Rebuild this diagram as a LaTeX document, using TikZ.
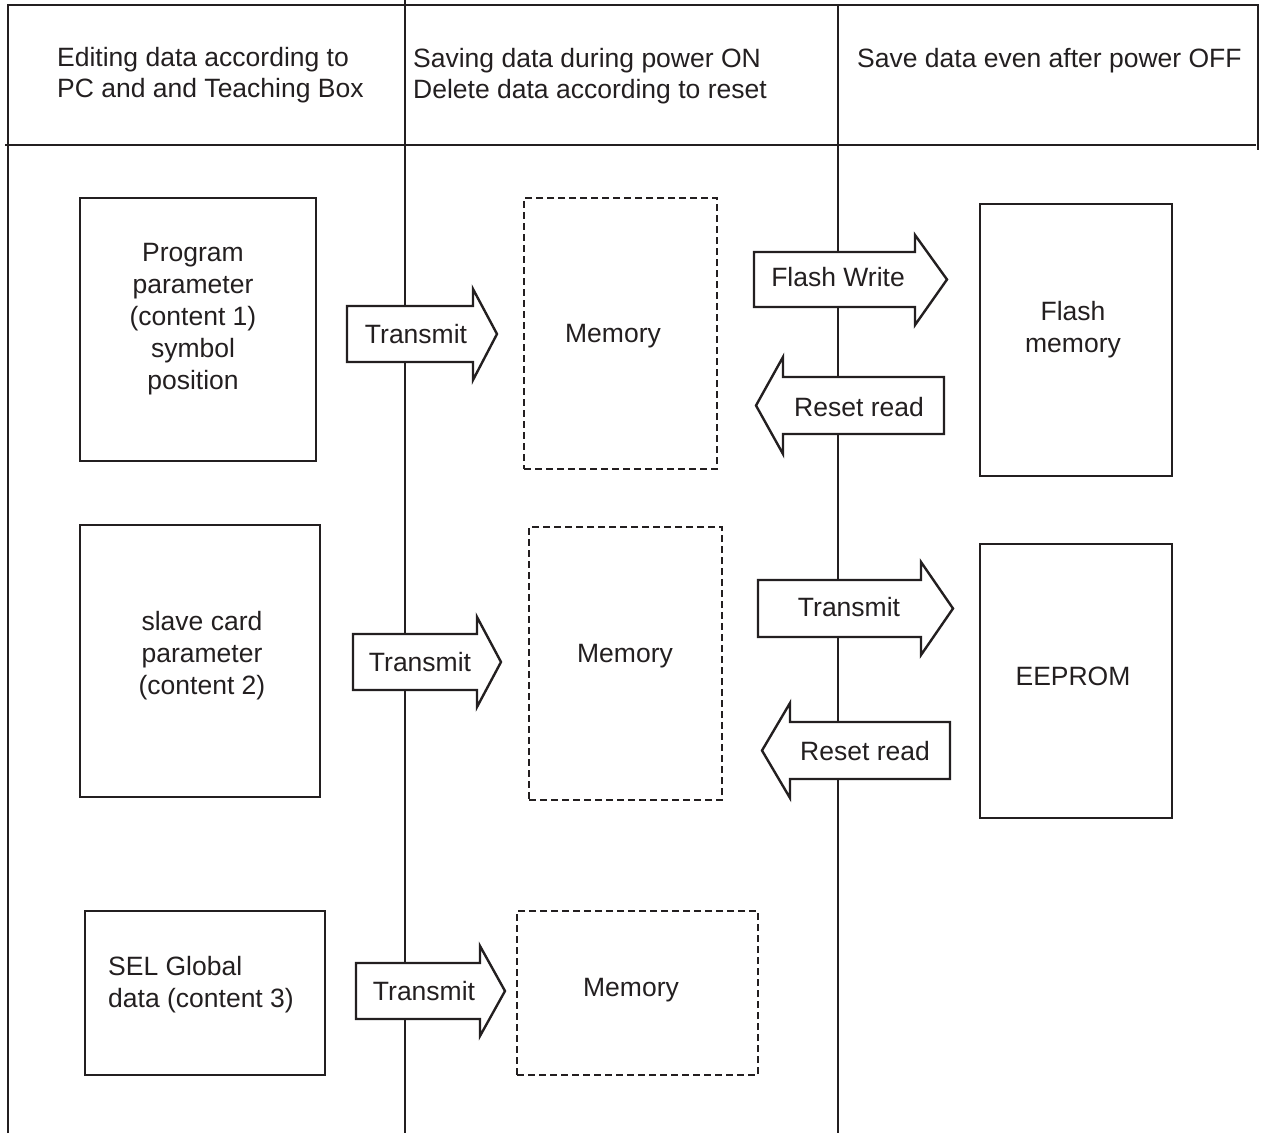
\documentclass[tikz,border=0pt]{standalone}
\usepackage{fontspec}
\setmainfont{Liberation Sans}
\definecolor{ink}{RGB}{35,31,32}
\begin{document}
\begin{tikzpicture}[x=1pt,y=-1pt,
  every node/.style={text=ink, font=\fontsize{26.5}{32}\selectfont, inner sep=0pt},
  rule/.style={draw=ink, line width=2.4pt},
  solidbox/.style={draw=ink, line width=2.6pt},
  dashbox/.style={draw=ink, line width=2.6pt, dash pattern=on 7pt off 4pt},
  blockarrow/.style={draw=ink, fill=white, line width=2.4pt, line join=miter},
  hdr/.style={anchor=base west},
  boxtext/.style={align=center}
  ]
\useasboundingbox (0,0) rectangle (1266,1133);
% frame
\draw[rule] (8,1133) -- (8,5) -- (1258,5) -- (1258,150);
\draw[rule] (5,145) -- (1256,145);
\draw[rule] (405,0) -- (405,1133);
\draw[rule] (838,5) -- (838,1133);
% headers
\node[hdr] (h1a) at (57,66) {Editing data according to};
\node[hdr] (h1b) at (57,97) {PC and and Teaching Box};
\node[hdr] (h2a) at (413,67) {Saving data during power ON};
\node[hdr] (h2b) at (413,98) {Delete data according to reset};
\node[hdr] (h3a) at (857,67) {Save data even after power OFF};
% boxes
\node[solidbox, minimum width=236pt, minimum height=263pt] (prog) at (198,329.5) {};
\node[solidbox, minimum width=240pt, minimum height=272pt] (slave) at (200,661) {};
\node[solidbox, minimum width=240pt, minimum height=164pt] (sel) at (205,993) {};
\node[dashbox, minimum width=193pt, minimum height=271pt] (mem1) at (620.5,333.5) {};
\node[dashbox, minimum width=193pt, minimum height=273pt] (mem2) at (625.5,663.5) {};
\node[dashbox, minimum width=241pt, minimum height=164pt] (mem3) at (637.5,993) {};
\node[solidbox, minimum width=192pt, minimum height=272pt] (flash) at (1076,340) {};
\node[solidbox, minimum width=192pt, minimum height=274pt] (eeprom) at (1076,681) {};
% box texts
\node[boxtext] (progt) at (193,319) {Program\\parameter\\(content 1)\\symbol\\position};
\node[boxtext] (slavet) at (202,656) {slave card\\parameter\\(content 2)};
\node[align=left, anchor=west] (selt) at (108,985) {SEL Global\\data (content 3)};
\node (mem1t) at (613,336) {Memory};
\node (mem2t) at (625,656) {Memory};
\node (mem3t) at (631,990) {Memory};
\node[boxtext] (flasht) at (1073,330) {Flash\\memory};
\node (eepromt) at (1073,676) {EEPROM};
% block arrows (right)
\draw[blockarrow] (347,306) -- (473,306) -- (473,289) -- (497,334) -- (473,380) -- (473,362) -- (347,362) -- cycle;
\draw[blockarrow] (353,634) -- (477,634) -- (477,617) -- (501,662) -- (477,707) -- (477,690) -- (353,690) -- cycle;
\draw[blockarrow] (356,963) -- (480,963) -- (480,946) -- (505,991) -- (480,1036) -- (480,1019) -- (356,1019) -- cycle;
\draw[blockarrow] (754,252) -- (915,252) -- (915,235) -- (947,279.5) -- (915,325) -- (915,307) -- (754,307) -- cycle;
\draw[blockarrow] (758,580) -- (921,580) -- (921,562) -- (953,608.5) -- (921,655) -- (921,637) -- (758,637) -- cycle;
% block arrows (left)
\draw[blockarrow] (756,405.5) -- (783,357) -- (783,377) -- (944,377) -- (944,434) -- (783,434) -- (783,454) -- cycle;
\draw[blockarrow] (762,750.5) -- (790,703) -- (790,722) -- (950,722) -- (950,779) -- (790,779) -- (790,798) -- cycle;
% arrow labels
\node (tr1) at (416,334) {Transmit};
\node (tr2) at (420,662) {Transmit};
\node (tr3) at (424,991) {Transmit};
\node (fw) at (838,277) {Flash Write};
\node (rr1) at (859,407) {Reset read};
\node (tr4) at (849,607) {Transmit};
\node (rr2) at (865,751) {Reset read};
\end{tikzpicture}
\end{document}
